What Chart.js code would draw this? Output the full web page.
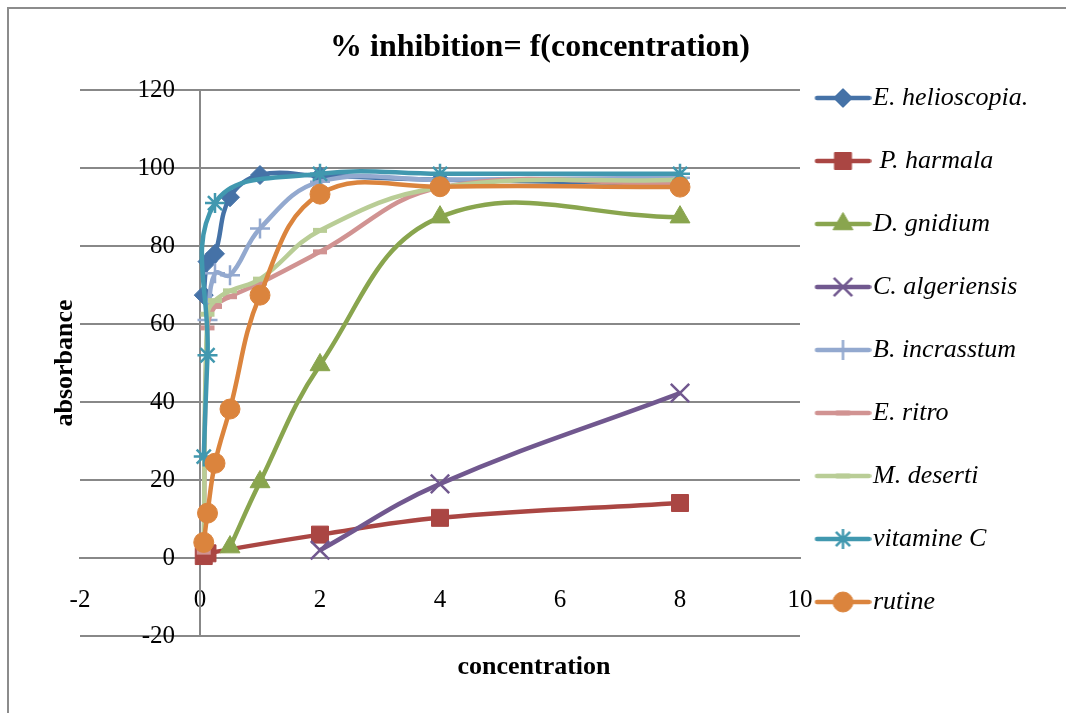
<!DOCTYPE html>
<html>
<head>
<meta charset="utf-8">
<script src="https://cdn.jsdelivr.net/npm/chart.js@4.4.0/dist/chart.umd.min.js"></script>
<style>
  html, body { margin: 0; padding: 0; background: #fff; }
  #wrap { width: 1066px; height: 713px; }
</style>
</head>
<body>
<div id="wrap"><canvas id="chart" width="1066" height="713"></canvas></div>
<script>
// concentrations (axe x), communes à toutes les séries
const concentrations = [0.0625, 0.125, 0.25, 0.5, 1, 2, 4, 8];

const seriesNames = ['E. helioscopia.', ' P. harmala', 'D. gnidium', 'C. algeriensis',
  'B. incrasstum', 'E. ritro', 'M. deserti', 'vitamine C', 'rutine'];

// % inhibition (null = pas de point)
const eHelioscopia = [67.4, 76, 78, 92.5, 98.2, 98, 97, 96];
const pHarmala     = [0.5, 1.2, null, null, null, 6, 10.3, 14.1];
const dGnidium     = [null, null, null, 2.8, 19.5, 49.5, 87.4, 87.4];
const cAlgeriensis = [null, null, null, null, null, 2, 19, 42.3];
const bIncrasstum  = [null, 61, 73, 72.5, 84.5, 96.5, 97, 97.5];
const eRitro       = [1.5, 59, 64.5, 67, 70.5, 78.5, 95, 96];
const mDeserti     = [3.5, 62.5, 66, 68.5, 71.5, 84, 95, 97];
const vitamineC    = [26, 52, 91, null, null, 98.5, 98.5, 98.5];
const rutine       = [4, 11.5, 24.3, 38.2, 67.4, 93.3, 95.2, 95.1];

const allValues = [eHelioscopia, pHarmala, dGnidium, cAlgeriensis, bIncrasstum, eRitro, mDeserti, vitamineC, rutine];

const chartTitle = '% inhibition= f(concentration)';
const xTitle = 'concentration';
const yTitle = 'absorbance';

// styles
const colors = ['#4572A7', '#AA4643', '#89A54E', '#71588F', '#93A9CF', '#D19392', '#B9CD96', '#4198AF', '#DB843D'];
const markers = ['rectRot', 'rect', 'triangle', 'crossRot', 'cross', 'line', 'line', 'star', 'circle'];
const markerSizes = [9.5, 12, 11.5, 13, 10, 7, 7, 10, 10];
const serif = '"Liberation Serif", "Times New Roman", serif';
const gridColor = '#888888';

Chart.defaults.font.family = serif;

function markerBorder(i) {
  if (markers[i] === 'line') return 5;
  if (['crossRot', 'cross', 'star'].includes(markers[i])) return 2.5;
  return 1;
}

const datasets = seriesNames.map((name, i) => ({
  label: name,
  data: concentrations.map((x, j) => ({ x: x, y: allValues[i][j] })).filter(p => p.y !== null),
  borderColor: colors[i],
  backgroundColor: colors[i],
  borderWidth: 4.5,
  showLine: true,
  tension: 0.4,
  pointStyle: markers[i],
  pointRadius: markerSizes[i],
  pointHoverRadius: markerSizes[i],
  pointBorderWidth: markerBorder(i),
  pointBackgroundColor: colors[i],
  pointBorderColor: colors[i],
  order: seriesNames.length - i
}));

// petite image ligne + marqueur pour la légende
function legendIcon(i) {
  const c = document.createElement('canvas');
  c.width = 72; c.height = 30;
  const g = c.getContext('2d');
  g.strokeStyle = colors[i];
  g.fillStyle = colors[i];
  g.lineWidth = 4.5;
  g.lineCap = 'round';
  g.beginPath(); g.moveTo(17.5, 15); g.lineTo(69.5, 15); g.stroke();
  g.lineWidth = markerBorder(i);
  g.lineCap = 'butt';
  if (Chart.helpers && Chart.helpers.drawPoint) {
    Chart.helpers.drawPoint(g, { pointStyle: markers[i], radius: markerSizes[i], rotation: 0, borderWidth: markerBorder(i) }, 43.5, 15);
  }
  return c;
}
const icons = seriesNames.map((n, i) => legendIcon(i));

const decorations = {
  id: 'decorations',
  afterLayout(chart) {
    // la légende garde 200px dans la mise en page mais ne doit pas couper le texte
    const lg = chart.legend;
    if (lg) { lg.right = chart.width; lg.width = lg.right - lg.left; }
  },
  beforeDraw(chart) {
    const ctx = chart.ctx;
    ctx.save();
    ctx.strokeStyle = '#8c8c8c';
    ctx.lineWidth = 2;
    ctx.strokeRect(8, 8, 1200, 1000);
    ctx.restore();
  },
  afterDraw(chart) {
    const ctx = chart.ctx;
    ctx.save();
    ctx.font = 'bold 26px ' + serif;
    ctx.fillStyle = '#000';
    ctx.textAlign = 'center';
    ctx.textBaseline = 'middle';
    ctx.fillText(xTitle, 534, 667);
    ctx.translate(65, 363);
    ctx.rotate(-Math.PI / 2);
    ctx.fillText(yTitle, 0, 0);
    ctx.restore();
  }
};

new Chart(document.getElementById('chart'), {
  type: 'scatter',
  data: { datasets: datasets },
  plugins: [decorations],
  options: {
    responsive: false,
    animation: false,
    layout: { padding: { left: 80, right: 66, top: 0, bottom: 77 } },
    plugins: {
      title: {
        display: true,
        text: chartTitle,
        color: '#000',
        font: { family: serif, size: 32, weight: 'bold', lineHeight: 1.2 },
        padding: { top: 28.8, bottom: 22.8 }
      },
      legend: {
        position: 'right',
        fullSize: true,
        align: 'start',
        maxWidth: 200,
        title: { display: true, text: ' ', font: { size: 10, lineHeight: 1.2 }, padding: { top: 62, bottom: 0 } },
        labels: {
          usePointStyle: true,
          pointStyleWidth: 49,
          padding: 11,
          color: '#000',
          font: { family: serif, size: 26, style: 'italic', lineHeight: 2 },
          generateLabels: chart => chart.data.datasets.map((ds, i) => ({
            text: i === chart.data.datasets.length - 1 ? ds.label : [ds.label],
            pointStyle: icons[i],
            fillStyle: colors[i],
            strokeStyle: colors[i],
            lineWidth: 0,
            fontColor: '#000',
            hidden: false,
            datasetIndex: i
          }))
        }
      },
      tooltip: { enabled: false }
    },
    scales: {
      x: {
        type: 'linear',
        position: { y: 0 },
        min: -2,
        max: 10,
        ticks: { stepSize: 2, padding: 27, color: '#000', font: { family: serif, size: 25 } },
        grid: { display: false, drawTicks: false },
        border: { display: true, color: gridColor, width: 2 }
      },
      y: {
        type: 'linear',
        position: { x: 0 },
        min: -20,
        max: 120,
        ticks: { stepSize: 20, padding: 0, color: '#000', font: { family: serif, size: 25 },
          callback: v => v + '    ' },
        grid: { color: gridColor, lineWidth: 2, drawTicks: false },
        border: { display: true, color: gridColor, width: 2 }
      }
    }
  }
});
</script>
</body>
</html>
